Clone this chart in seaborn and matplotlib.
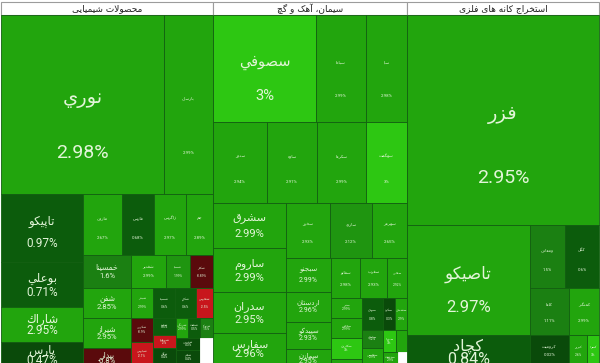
import matplotlib
matplotlib.use("Agg")
import matplotlib.pyplot as plt
import seaborn as sns

# ---------------- data (values = relative tile size, pct = daily change) ----------------
group_titles = ["محصولات شیمیایی", "سیمان، آهک و گچ", "استخراج کانه های فلزی"]

chem_names = ["نوري", "پارسان",
              "تاپیکو", "بوعلي", "شاراك", "پارس",
              "مارون", "فارس", "زاگرس", "جم",
              "خمسینا", "شفن", "شیراز", "بیدار",
              "شغدیر", "شسپا", "شکلر",
              "شبندر", "شکربن", "شپارس",
              "شسینا", "شکام", "شفارس",
              "شلرد", "شصفها", "شگل",
              "شرنگی", "شنفت", "شتوکا",
              "شدوص", "شجم",
              ""]
chem_values = [29177, 8771,
               5576, 3690, 2870, 1968,
               2379, 1952, 1952, 1647,
               1584, 1440, 1440, 864,
               1155, 792, 759,
               660, 528, 528,
               660, 630, 510,
               391, 299, 414,
               240, 240, 260,
               288, 384,
               364]
chem_pct = [2.98, 2.99,
            0.97, 0.71, 2.95, 0.47,
            2.67, 0.68, 2.97, 2.89,
            1.6, 2.85, 2.95, -0.8,
            2.99, 1.99, -0.89,
            2.99, -0.9, -2.1,
            0.6, 0.6, -2.5,
            0.5, -2.0, 0.4,
            2.99, 0.5, 1.5,
            0.3, 0.4,
            None]
chem_rows = [2, 4, 4, 4, 3, 3, 3, 3, 3, 2, 1]

cement_names = ["سصوفي", "سپاها", "سپا",
                "سدور", "ساوه", "سکرما", "سهگمت",
                "سشرق", "ساروم", "سدران", "سفارس",
                "سخزر", "سارود", "سهرمز",
                "سبجنو", "اردستان", "سپیدکو", "سمازن",
                "سفانو", "سغرب", "سقاین",
                "سنیر", "سخاش", "سکارون", "سیلام",
                "سبهان", "سکرد", "سشمال",
                "سامان", "سفاسی",
                "سبزوا", "سپاهان",
                "سدشت",
                ""]
cement_values = [11021, 5350, 4387,
                 4374, 4050, 3969, 3321,
                 3285, 3212, 2993, 2409,
                 2420, 2310, 1925,
                 1530, 1350, 1215, 765,
                 1160, 1080, 800,
                 620, 620, 651, 217,
                 672, 384, 384,
                 378, 378,
                 286, 242,
                 210,
                 126]
cement_pct = [3.0, 2.99, 2.98,
              2.94, 2.91, 2.99, 3.0,
              2.99, 2.99, 2.95, 2.96,
              2.93, 2.12, 2.65,
              2.99, 2.96, 2.93, 2.95,
              2.98, 2.93, 2.92,
              2.99, 2.99, 3.0, 2.9,
              0.8, 0.3, 2.9,
              1.2, 2.9,
              3.0, 2.9,
              2.9,
              None]
cement_rows = [3, 4, 4, 3, 4, 3, 4, 3, 2, 2, 1, 1]

metal_names = ["فزر",
               "تاصیکو", "کچاد",
               "ومعادن", "کگل",
               "کاما", "کمنگنز",
               "کرومیت",
               "کپرور", "کسرا"]
metal_values = [40320,
                13530, 3813,
                2205, 2142,
                1833, 1410,
                1209,
                558, 372]
metal_pct = [2.95,
             2.97, 0.84,
             1.5, 0.6,
             1.11, 2.99,
             0.02,
             2.6, 3.0]
metal_rows = [1, 2, 2, 2, 1, 2]

# ---------------- styles ----------------
label_sizes = {"نوري": 14, "فزر": 14, "تاصیکو": 12, "سصوفي": 10.5, "کچاد": 11.5,
               "تاپیکو": 8.5, "بوعلي": 8.5, "شاراك": 8.5, "پارس": 8.5,
               "سشرق": 8, "ساروم": 8, "سدران": 8, "سفارس": 8,
               "خمسینا": 5.5, "شفن": 5.5, "شیراز": 5.5, "بیدار": 5.5,
               "سبجنو": 5, "اردستان": 5, "سپیدکو": 5, "سمازن": 5}


def tile_color(p):
    if p is None:
        return "white"
    if p >= 3:
        return "#2dc712"
    if p >= 2.5:
        return "#22a50d"
    if p >= 1.8:
        return "#1f9510"
    if p >= 1.0:
        return "#1b8012"
    if p >= 0.5:
        return "#0c5c0c"
    if p >= 0:
        return "#0a4a0a"
    if p > -1:
        return "#5a0a0c"
    return "#c8161c"


# ---------------- Arabic shaping (matplotlib has no complex text layout) ----------------
def _rng(start, n):
    vals = [chr(start + k) for k in range(n)]
    return tuple(vals + [None] * (4 - n))

FORMS = {
    "ء": _rng(0xFE80, 1), "آ": _rng(0xFE81, 2), "أ": _rng(0xFE83, 2), "ؤ": _rng(0xFE85, 2),
    "إ": _rng(0xFE87, 2), "ئ": _rng(0xFE89, 4), "ا": _rng(0xFE8D, 2), "ب": _rng(0xFE8F, 4),
    "ة": _rng(0xFE93, 2), "ت": _rng(0xFE95, 4), "ث": _rng(0xFE99, 4), "ج": _rng(0xFE9D, 4),
    "ح": _rng(0xFEA1, 4), "خ": _rng(0xFEA5, 4), "د": _rng(0xFEA9, 2), "ذ": _rng(0xFEAB, 2),
    "ر": _rng(0xFEAD, 2), "ز": _rng(0xFEAF, 2), "س": _rng(0xFEB1, 4), "ش": _rng(0xFEB5, 4),
    "ص": _rng(0xFEB9, 4), "ض": _rng(0xFEBD, 4), "ط": _rng(0xFEC1, 4), "ظ": _rng(0xFEC5, 4),
    "ع": _rng(0xFEC9, 4), "غ": _rng(0xFECD, 4), "ف": _rng(0xFED1, 4), "ق": _rng(0xFED5, 4),
    "ك": _rng(0xFED9, 4), "ل": _rng(0xFEDD, 4), "م": _rng(0xFEE1, 4), "ن": _rng(0xFEE5, 4),
    "ه": _rng(0xFEE9, 4), "و": _rng(0xFEED, 2), "ى": _rng(0xFEEF, 2), "ي": _rng(0xFEF1, 4),
    "پ": _rng(0xFB56, 4), "چ": _rng(0xFB7A, 4), "ژ": _rng(0xFB8A, 2), "ک": _rng(0xFB8E, 4),
    "گ": _rng(0xFB92, 4), "ی": _rng(0xFBFC, 4),
}
LAM_ALEF = {"ا": ("\uFEFB", "\uFEFC"), "آ": ("\uFEF5", "\uFEF6"),
            "أ": ("\uFEF7", "\uFEF8"), "إ": ("\uFEF9", "\uFEFA")}


def _dual(c):
    return c in FORMS and FORMS[c][2] is not None


def _joins(c):
    return c in FORMS and c != "ء"


def shape(text):
    res = []
    i, n = 0, len(text)
    while i < n:
        c = text[i]
        if c not in FORMS:
            res.append(c)
            i += 1
            continue
        prev = text[i - 1] if i > 0 else None
        jp = prev is not None and _dual(prev)
        if c == "ل" and i + 1 < n and text[i + 1] in LAM_ALEF:
            lig = LAM_ALEF[text[i + 1]]
            res.append(lig[1] if jp else lig[0])
            i += 2
            continue
        nxt = text[i + 1] if i + 1 < n else None
        jn = nxt is not None and _dual(c) and _joins(nxt)
        f = FORMS[c]
        if jp and jn:
            g = f[3]
        elif jp:
            g = f[1]
        elif jn:
            g = f[2]
        else:
            g = f[0]
        res.append(g)
        i += 1
    return "".join(reversed(res))


# ---------------- treemap layout (d3-style squarified rows) ----------------
def layout_rows(values, rows, x0, y0, x1, y1):
    rects = []
    total = float(sum(values))
    i = 0
    for k in rows:
        vals = values[i:i + k]
        s = float(sum(vals))
        dx, dy = x1 - x0, y1 - y0
        if dx < dy:
            h = dy * s / total
            cx = x0
            for v in vals:
                w = dx * v / s
                rects.append((cx, y0, w, h))
                cx += w
            y0 += h
        else:
            w = dx * s / total
            cy = y0
            for v in vals:
                h = dy * v / s
                rects.append((x0, cy, w, h))
                cy += h
            x0 += w
        total -= s
        i += k
    return rects


sns.set_theme(style="white")
plt.rcParams["font.family"] = ["Roboto", "DejaVu Sans"]

fig = plt.figure(figsize=(6.0, 3.63), dpi=100)
ax = fig.add_axes([0, 0, 1, 1])
ax.set_xlim(0, 600)
ax.set_ylim(363, 0)
ax.axis("off")

groups = [(chem_names, chem_values, chem_pct, chem_rows),
          (cement_names, cement_values, cement_pct, cement_rows),
          (metal_names, metal_values, metal_pct, metal_rows)]

X0, X1, Y0, Y1 = 1.0, 599.0, 2.0, 366.0
HEADER = 13.0
grand = float(sum(sum(g[1]) for g in groups))
gx = X0
text_col = "#e2f5d8"
edge_col = "#125f10"

for title, (names, values, pct, rows) in zip(group_titles, groups):
    gw = (X1 - X0) * sum(values) / grand
    # header
    ax.bar(gx, HEADER, width=gw, bottom=Y0, align="edge", color="white",
           edgecolor="#9c9c9c", linewidth=0.8)
    ax.text(gx + gw / 2, Y0 + HEADER / 2 + 0.5, shape(title), ha="center", va="center",
            fontsize=6.5, color="#202020", family=["DejaVu Sans"])
    rects = layout_rows(values, rows, gx, Y0 + HEADER, gx + gw, Y1)
    for (x, y, w, h), nm, p in zip(rects, names, pct):
        col = tile_color(p)
        ax.bar(x, h, width=w, bottom=y, align="edge", color=col,
               edgecolor=(edge_col if p is not None else "white"), linewidth=0.6)
        if p is None:
            continue
        fs = label_sizes.get(nm)
        if fs is None:
            m = min(w, h)
            if m >= 25:
                fs = 3.2
            elif m >= 12:
                fs = 2.4
            else:
                continue
        mid = y + h / 2
        a = min(6.0, 0.14 * h)
        sep = max(0.3 * h - 5 + a, 1.2 * fs)
        name_y = mid - a
        ax.text(x + w / 2, name_y, shape(nm), ha="center", va="center",
                fontsize=fs, color=text_col, family=["DejaVu Sans"], clip_on=True)
        ax.text(x + w / 2, name_y + sep, f"{p:g}%", ha="center", va="center",
                fontsize=fs, color=text_col, family=["Roboto", "DejaVu Sans"], clip_on=True)
    gx += gw

fig.savefig("out.png", dpi=100)
